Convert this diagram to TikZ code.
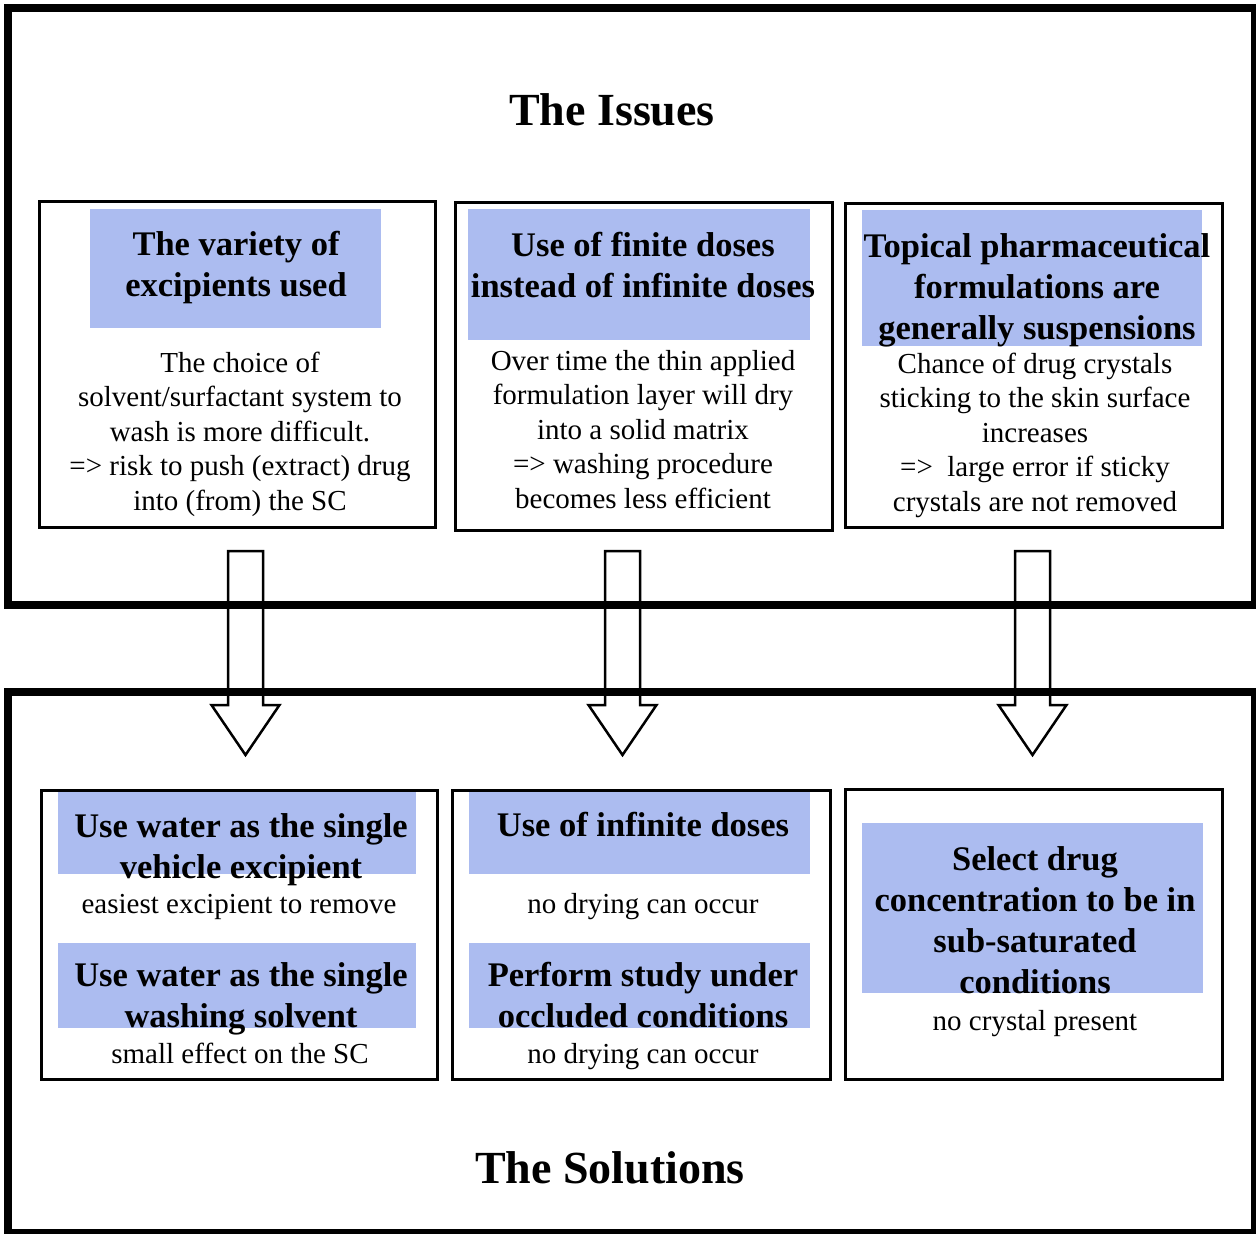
\documentclass[tikz,border=0pt]{standalone}
\usepackage{fontspec}
\setmainfont{Liberation Serif}
\usetikzlibrary{calc}
\definecolor{hdrblue}{RGB}{172,188,240}
\begin{document}
\begin{tikzpicture}[x=1pt,y=-1pt,
  frame/.style={draw,line width=8pt,inner sep=0pt,anchor=north west},
  box/.style={draw,line width=2.5pt,inner sep=0pt,anchor=north west},
  hdr/.style={fill=hdrblue},
  title/.style={font=\bfseries\fontsize{46}{52}\selectfont,anchor=base,inner sep=0pt},
  head/.style={font=\bfseries\fontsize{34.5}{41}\selectfont,align=center,anchor=base,inner sep=0pt},
  body/.style={font=\fontsize{29}{34.5}\selectfont,align=center,anchor=base,inner sep=0pt},
  blockarrow/.style={draw,line width=2.5pt,line join=miter}]
\useasboundingbox (0,0) rectangle (1256,1234);

% outer frames
\node[frame,minimum width=1247pt,minimum height=597pt] (issues) at (4,4) {};
\node[frame,minimum width=1247pt,minimum height=541pt] (solutions) at (4,688) {};

% header fills
\fill[hdr] (90,209) rectangle (381,328);
\fill[hdr] (468,209) rectangle (810,340);
\fill[hdr] (862,210) rectangle (1202,346);
\fill[hdr] (58,792) rectangle (416,874);
\fill[hdr] (58,943) rectangle (416,1028);
\fill[hdr] (469,792) rectangle (810,874);
\fill[hdr] (469,943) rectangle (810,1028);
\fill[hdr] (862,823) rectangle (1203,993);

% boxes
\node[box,minimum width=396pt,minimum height=326pt] (b1) at (38,200) {};
\node[box,minimum width=377pt,minimum height=328pt] (b2) at (454,201) {};
\node[box,minimum width=377pt,minimum height=324pt] (b3) at (844,202) {};
\node[box,minimum width=396pt,minimum height=289pt] (b4) at (40,789) {};
\node[box,minimum width=378pt,minimum height=289pt] (b5) at (451,789) {};
\node[box,minimum width=377pt,minimum height=290pt] (b6) at (844,788) {};

% titles
\node[title] (t1) at (612,125) {The Issues};
\node[title] (t2) at (610,1183) {The Solutions};

% issue texts (anchor = baseline of last line)
\node[head] (h1) at (236,296) {The variety of\\excipients used};
\node[body] (d1) at (240,510) {The choice of\\solvent/surfactant system to\\wash is more difficult.\\=> risk to push (extract) drug\\into (from) the SC};
\node[head] (h2) at (643,297) {Use of finite doses\\instead of infinite doses};
\node[body] (d2) at (643,508) {Over time the thin applied\\formulation layer will dry\\into a solid matrix\\=> washing procedure\\becomes less efficient};
\node[head] (h3) at (1037,339) {Topical pharmaceutical\\formulations are\\generally suspensions};
\node[body] (d3) at (1035,511) {Chance of drug crystals\\sticking to the skin surface\\increases\\=>\ \ large error if sticky\\crystals are not removed};

% solution texts
\node[head] (s1) at (241,878) {Use water as the single\\vehicle excipient};
\node[body] (e1) at (239,913) {easiest excipient to remove};
\node[head] (s2) at (241,1027) {Use water as the single\\washing solvent};
\node[body] (e2) at (240,1063) {small effect on the SC};
\node[head] (s3) at (643,836) {Use of infinite doses};
\node[body] (e3) at (643,913) {no drying can occur};
\node[head] (s4) at (643,1027) {Perform study under\\occluded conditions};
\node[body] (e4) at (643,1063) {no drying can occur};
\node[head] (s5) at (1035,993) {Select drug\\concentration to be in\\sub-saturated\\conditions};
\node[body] (e5) at (1035,1030) {no crystal present};

% block arrows
\coordinate (a1s) at (245.5,551); \coordinate (a1e) at (245.5,755);
\coordinate (a2s) at (622.5,551); \coordinate (a2e) at (622.5,755);
\coordinate (a3s) at (1032.5,551); \coordinate (a3e) at (1032.5,755);
\foreach \a in {a1,a2,a3}{
  \draw[blockarrow] ($(\a s)+(-17.5,0)$) -- ($(\a e)+(-17.5,-50)$) -- ($(\a e)+(-34,-50)$)
    -- (\a e) -- ($(\a e)+(34,-50)$) -- ($(\a e)+(17.5,-50)$) -- ($(\a s)+(17.5,0)$) -- cycle;
}
\end{tikzpicture}
\end{document}
